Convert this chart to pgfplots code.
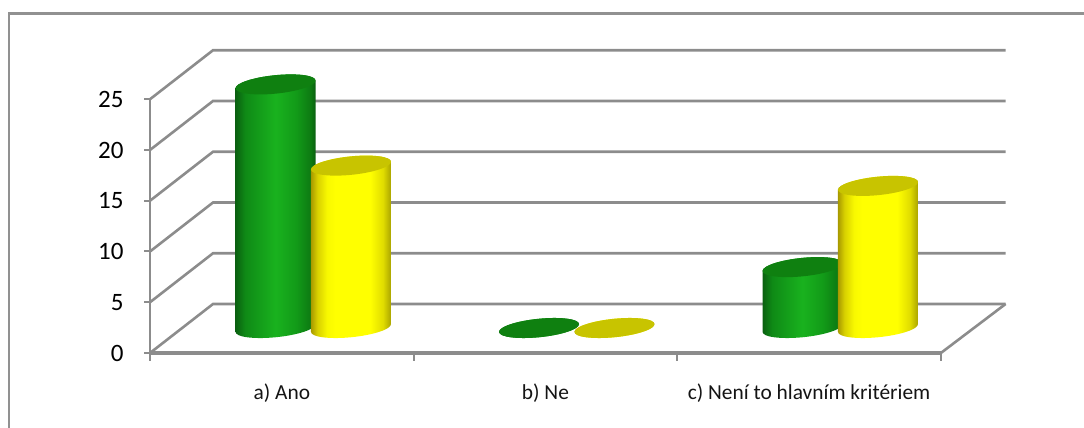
\documentclass[border=0pt]{standalone}
\usepackage{fontspec}
\setmainfont{Carlito}
\usepackage{pgfplots}
\usepackage{pgfplotstable}
\pgfplotsset{compat=1.18}

\definecolor{wallgray}{HTML}{8C8C8C}
\definecolor{frameline}{HTML}{919191}
\definecolor{capgreen}{HTML}{0F8010}
\definecolor{capyellow}{HTML}{C8C400}
\definecolor{GR0}{HTML}{0A6010}
\definecolor{GR1}{HTML}{0F8A16}
\definecolor{GR2}{HTML}{19B21E}
\definecolor{GR3}{HTML}{129A18}
\definecolor{GR4}{HTML}{0D7A12}
\definecolor{YL0}{HTML}{A89A00}
\definecolor{YL1}{HTML}{D8D000}
\definecolor{YL2}{HTML}{F8F800}
\definecolor{YL3}{HTML}{FFFF00}
\definecolor{YL4}{HTML}{E0DC00}
\definecolor{YL5}{HTML}{AAA400}

% Round-column shadings: the middle 50bp of each spans the column's width
\pgfdeclarehorizontalshading{cylG}{100bp}{
  color(0bp)=(GR0);color(25bp)=(GR0);color(31bp)=(GR1);color(50bp)=(GR2);
  color(63bp)=(GR3);color(72bp)=(GR4);color(75bp)=(GR0);color(100bp)=(GR0)}
\pgfdeclarehorizontalshading{cylY}{100bp}{
  color(0bp)=(YL0);color(25bp)=(YL0);color(29bp)=(YL1);color(35bp)=(YL2);color(40bp)=(YL3);
  color(62bp)=(YL3);color(70bp)=(YL4);color(75bp)=(YL5);color(100bp)=(YL5)}

% A column mark: stands on the floor plane, its height taken from the value \val
\newcommand{\columnmark}[3]{%
  \pgfdeclareplotmark{#1}{%
    \pgfmathsetlengthmacro\cylh{\val*10.15pt}%
    \pgftransformcm{1}{0.09625}{0}{1}{\pgfpointorigin}%
    \pgfpathmoveto{\pgfpoint{-40pt}{0pt}}%
    \pgfpathlineto{\pgfpoint{-40pt}{-\cylh}}%
    \pgfpatharc{180}{360}{40pt and 9.25pt}%
    \pgfpathlineto{\pgfpoint{40pt}{0pt}}%
    \pgfpatharc{0}{180}{40pt and 9.25pt}%
    \pgfpathclose
    \pgfshadepath{#2}{0}%
    \pgfusepath{discard}%
    \pgfpathellipse{\pgfpointorigin}{\pgfpoint{40pt}{0pt}}{\pgfpoint{0pt}{9.25pt}}%
    \pgfsetfillcolor{#3}%
    \pgfusepath{fill}%
  }%
}
\columnmark{colG}{cylG}{capgreen}
\columnmark{colY}{cylY}{capyellow}

\pgfplotstableread{
cat ser1 ser2
0   24   16
1   0    0
2   6    14
}\answers

\begin{document}
\begin{tikzpicture}
  \path[use as bounding box] (0pt,0pt) rectangle (1084pt,428pt);
  % chart frame, open to the right and below
  \draw[frameline,line width=2.6pt] (9pt,0pt) -- (9pt,414.5pt) -- (1084pt,414.5pt);

  % walls, floor and value scale
  \begin{axis}[
    at={(150pt,75pt)},anchor=origin,
    scale only axis,
    width=855.6pt,height=303.5pt,
    xmin=0,xmax=3.2456,ymin=0,ymax=29.9,
    axis x line=bottom,axis y line=left,
    axis line style={draw=none},
    clip=false,
    xtick={0.5,1.5,2.5},
    xticklabels={a) Ano,b) Ne,c) Není to hlavním kritériem},
    minor xtick={0,1,2,3},
    ytick={0,5,10,15,20,25},
    tick align=outside,
    major tick length=6pt,
    minor tick length=7.5pt,
    major x tick style={draw=none},
    minor x tick style={draw=wallgray,line width=2pt},
    ytick style={draw=wallgray,line width=2pt},
    y tick label style={font=\fontsize{25}{25}\selectfont,text=black,xshift=-17pt},
    x tick label style={font=\fontsize{21.4}{24}\selectfont,text=black!92,yshift=-21pt},
    /pgf/number format/assume math mode=true,
  ]
    % wall lines for each scale value: side wall, then back wall
    \addplot[wallgray,line width=2.6pt,forget plot] coordinates {(0,0) (0.2392,4.83) (3.2456,4.83)};
    \addplot[wallgray,line width=2.6pt,forget plot] coordinates {(0,5) (0.2392,9.83) (3.2456,9.83)};
    \addplot[wallgray,line width=2.6pt,forget plot] coordinates {(0,10) (0.2392,14.83) (3.2456,14.83)};
    \addplot[wallgray,line width=2.6pt,forget plot] coordinates {(0,15) (0.2392,19.83) (3.2456,19.83)};
    \addplot[wallgray,line width=2.6pt,forget plot] coordinates {(0,20) (0.2392,24.83) (3.2456,24.83)};
    \addplot[wallgray,line width=2.6pt,forget plot] coordinates {(0,25) (0.2392,29.83) (3.2456,29.83)};
    % front edge of the floor, its right side, and the scale's upright
    \addplot[wallgray,line width=3.4pt,forget plot] coordinates {(0,0) (3,0)};
    \addplot[wallgray,line width=2.6pt,forget plot] coordinates {(3,0) (3.2456,4.83)};
    \addplot[wallgray,line width=2.4pt,forget plot] coordinates {(0,0) (0,25)};
  \end{axis}

  % columns, standing on the floor plane halfway back
  \begin{axis}[
    at={(313.25pt,100pt)},anchor=origin,
    scale only axis,hide axis,clip=false,
    width=855.6pt,height=278.5pt,
    xmin=-0.6196,xmax=2.6275,ymin=0,ymax=27.44,
  ]
    \addplot[scatter,only marks,mark=colG,draw=none,
      scatter/@pre marker code/.code={},scatter/@post marker code/.code={},
      visualization depends on={\thisrow{ser1} \as \val}]
      table[x expr=\coordindex-0.1432,y=ser1] {\answers};
    \addplot[scatter,only marks,mark=colY,draw=none,
      scatter/@pre marker code/.code={},scatter/@post marker code/.code={},
      visualization depends on={\thisrow{ser2} \as \val}]
      table[x expr=\coordindex+0.1432,y=ser2] {\answers};
  \end{axis}
\end{tikzpicture}
\end{document}
